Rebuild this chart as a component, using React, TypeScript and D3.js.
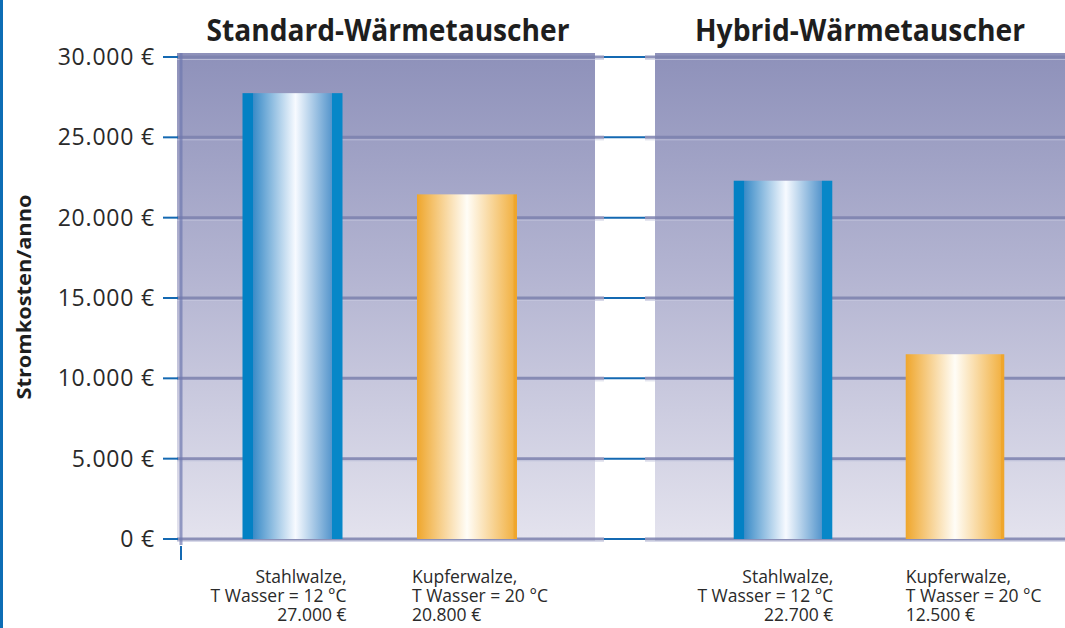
import React from "react";
import * as d3 from "d3";

const groupTitles = ["Standard-Wärmetauscher", "Hybrid-Wärmetauscher"];
const categoryNames = ["Stahlwalze,", "Kupferwalze,"];
const categoryTemps = ["T Wasser = 12 °C", "T Wasser = 20 °C"];
const standardValues = [27750, 21450];
const hybridValues = [22300, 11500];
const standardLabels = ["27.000 €", "20.800 €"];
const hybridLabels = ["22.700 €", "12.500 €"];
const yTicks = [0, 5000, 10000, 15000, 20000, 25000, 30000];
const yAxisTitle = "Stromkosten/anno";

const W = 1065;
const H = 628;

const fmt = (v: number) =>
  v === 0 ? "0 €" : d3.format(",")(v).replace(/,/g, ".") + " €";

export default function App() {
  const y = d3.scaleLinear().domain([0, 30000]).range([539, 57]);

  const panels = [
    { x0: 177, x1: 595, range: [205.25, 554.25] as [number, number], values: standardValues, labels: standardLabels, titleX: 388, titleLen: 363, adj: 4 },
    { x0: 655, x1: 1065, range: [697, 1041] as [number, number], values: hybridValues, labels: hybridLabels, titleX: 860, titleLen: 330, adj: 1 },
  ];

  const gridColor = "#7c81ae";
  const blue = "#1469b2";

  return (
    <svg
      width={W}
      height={H}
      style={{ position: "absolute", left: 0, top: 0, background: "#fff" }}
      fontFamily="'Open Sans', sans-serif"
    >
      <defs>
        <linearGradient id="panelBg" x1="0" y1="0" x2="0" y2="1">
          <stop offset="0" stopColor="#8e91ba" />
          <stop offset="0.45" stopColor="#b3b4d1" />
          <stop offset="1" stopColor="#e4e3ee" />
        </linearGradient>
        <linearGradient id="blueBar" x1="0" y1="0" x2="1" y2="0">
          <stop offset="0" stopColor="#0381c4" />
          <stop offset="0.1" stopColor="#0381c4" />
          <stop offset="0.11" stopColor="#3b8cc8" />
          <stop offset="0.53" stopColor="#f7faff" />
          <stop offset="0.89" stopColor="#5797cd" />
          <stop offset="0.9" stopColor="#0787c8" />
          <stop offset="1" stopColor="#0787c8" />
        </linearGradient>
        <linearGradient id="orangeBar" x1="0" y1="0" x2="1" y2="0">
          <stop offset="0" stopColor="#efa62c" />
          <stop offset="0.5" stopColor="#fffdf7" />
          <stop offset="0.96" stopColor="#f2b347" />
          <stop offset="0.97" stopColor="#efa62c" />
          <stop offset="1" stopColor="#efa62c" />
        </linearGradient>
      </defs>

      {/* left blue border */}
      <rect x={0} y={0} width={3} height={H} fill="#0d6db5" />

      {/* panels */}
      {panels.map((p, i) => (
        <rect key={"bg" + i} x={p.x0} y={53} width={p.x1 - p.x0} height={488} fill="url(#panelBg)" />
      ))}

      {/* gridlines */}
      {yTicks.map((t) => (
        <g key={"g" + t}>
          <line x1={177} x2={604} y1={y(t)} y2={y(t)} stroke={gridColor} strokeWidth={3} opacity={0.85} />
          <line x1={177} x2={604} y1={y(t) + 2.5} y2={y(t) + 2.5} stroke="#c8cae0" strokeWidth={1} opacity={0.7} />
          <line x1={604} x2={645} y1={y(t)} y2={y(t)} stroke={blue} strokeWidth={2} />
          <line x1={645} x2={1065} y1={y(t)} y2={y(t)} stroke={gridColor} strokeWidth={3} opacity={0.85} />
          <line x1={645} x2={1065} y1={y(t) + 2.5} y2={y(t) + 2.5} stroke="#c8cae0" strokeWidth={1} opacity={0.7} />
          <line x1={163} x2={178} y1={y(t)} y2={y(t)} stroke={blue} strokeWidth={2} />
          <text x={155} y={y(t) + 8} textAnchor="end" fontSize={23} fill="#2a2a2a" letterSpacing={0.8}>
            {fmt(t)}
          </text>
        </g>
      ))}

      {/* y axis line */}
      <line x1={181} x2={181} y1={53} y2={545} stroke="#6f79b0" strokeWidth={3} opacity={0.7} />
      <line x1={181} x2={181} y1={546} y2={560} stroke={blue} strokeWidth={2} />

      {/* bars & labels */}
      {panels.map((p, gi) => {
        const x = d3.scaleBand<number>().domain([0, 1]).range(p.range).paddingInner(74.5 / 174.5).paddingOuter(74.5 / 174.5 / 2);
        return (
          <g key={"p" + gi}>
            {p.values.map((v, i) => (
              <rect
                key={i}
                x={x(i)!}
                y={y(v)}
                width={x.bandwidth()}
                height={y(0) - y(v)}
                fill={i === 0 ? "url(#blueBar)" : "url(#orangeBar)"}
              />
            ))}
            {p.values.map((v, i) => {
              const anchor = i === 0 ? "end" : "start";
              const tx = i === 0 ? x(i)! + x.bandwidth() + p.adj : x(i)! - (gi === 0 ? 5 : 0);
              return (
                <text key={"l" + i} x={tx} textAnchor={anchor} fontSize={17.5} fill="#2a2a2a">
                  <tspan x={tx} y={583}>{categoryNames[i]}</tspan>
                  <tspan x={tx} y={602}>{categoryTemps[i]}</tspan>
                  <tspan x={tx} y={621}>{p.labels[i]}</tspan>
                </text>
              );
            })}
            <text
              x={p.titleX}
              y={41}
              textAnchor="middle"
              fontSize={30}
              fontWeight="bold"
              fill="#1e1e1e"
              textLength={p.titleLen}
              lengthAdjust="spacingAndGlyphs"
            >
              {groupTitles[gi]}
            </text>
          </g>
        );
      })}

      {/* y axis title */}
      <text
        transform="translate(31,297) rotate(-90)"
        textAnchor="middle"
        fontSize={19}
        fontWeight="bold"
        fill="#1e1e1e"
        textLength={205}
        lengthAdjust="spacingAndGlyphs"
      >
        {yAxisTitle}
      </text>
    </svg>
  );
}
